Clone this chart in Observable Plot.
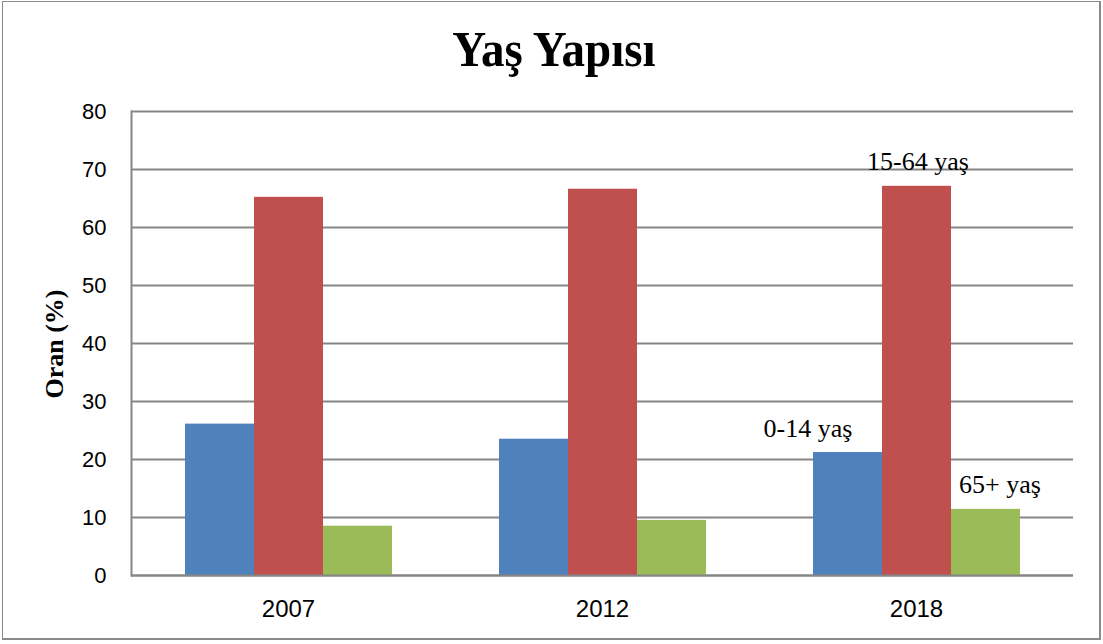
<!DOCTYPE html>
<html>
<head>
<meta charset="utf-8">
<script src="https://cdn.jsdelivr.net/npm/d3@7"></script>
<script src="https://cdn.jsdelivr.net/npm/@observablehq/plot@0.6"></script>
<style>
  html, body { margin: 0; padding: 0; background: #fff; }
  #wrap { position: relative; width: 1103px; height: 644px; overflow: hidden; }
  #border { position: absolute; left: 2px; top: 1px; width: 1099px; height: 639px; box-sizing: border-box; border: 2px solid #8a8a8a; border-top-width: 1px; border-left-width: 1px; pointer-events: none; }
  #title { position: absolute; left: 0; width: 1108px; top: 19px; text-align: center; font-family: "Liberation Serif", "Times New Roman", serif; font-weight: bold; font-size: 50px; line-height: 60px; transform: scaleX(0.94); transform-origin: 554px 0; color: #000; }
  #ylabel { position: absolute; left: 55px; top: 344px; transform: translate(-50%, -50%) rotate(-90deg); font-family: "Liberation Serif", "Times New Roman", serif; font-weight: bold; font-size: 26px; white-space: nowrap; color: #000; }
  svg { position: absolute; left: 0; top: 0; }
</style>
</head>
<body>
<div id="wrap">
  <div id="chart"></div>
  <div id="title">Yaş Yapısı</div>
  <div id="ylabel">Oran (%)</div>
  <div id="border"></div>
</div>
<script>
const years = ["2007", "2012", "2018"];
const groups = ["0-14 yaş", "15-64 yaş", "65+ yaş"];
const young = [26.1, 23.5, 21.2];
const working = [65.2, 66.6, 67.1];
const old = [8.5, 9.5, 11.4];
const yTicks = [0, 10, 20, 30, 40, 50, 60, 70, 80];
const colors = ["#4F81BD", "#C0504D", "#9BBB59"];
const labelYear = "2018";

const series = [young, working, old];
const data = [];
years.forEach((yr, i) => groups.forEach((g, j) => data.push({year: yr, group: g, value: series[j][i]})));

const labelDx = {"0-14 yaş": -40, "15-64 yaş": 1, "65+ yaş": 14};
const labelMarks = groups.map(g => Plot.text(data.filter(d => d.year === labelYear && d.group === g), {
  fx: "year", x: "group", y: "value", text: "group",
  dx: labelDx[g], dy: -16, lineAnchor: "bottom", textAnchor: "middle",
  fontFamily: "Liberation Serif, Times New Roman, serif", fontSize: 26, fill: "#000"
}));

const chart = Plot.plot({
  width: 1103,
  height: 644,
  marginLeft: 130,
  marginRight: 29,
  marginTop: 111,
  marginBottom: 69,
  style: {fontFamily: "Liberation Sans, Arial, sans-serif", fontSize: "22px", color: "#000", background: "transparent"},
  fx: {domain: years, padding: 0},
  x: {domain: groups, paddingInner: 0, paddingOuter: 0.75, axis: null},
  y: {domain: [0, 80]},
  color: {domain: groups, range: colors},
  marks: [
    Plot.gridY(yTicks, {stroke: "#868686", strokeOpacity: 1, strokeWidth: 2}),
    Plot.barY(data, {fx: "year", x: "group", y: "value", fill: "group", inset: 0}),
    Plot.ruleY([0], {stroke: "#868686", strokeWidth: 2}),
    Plot.frame({anchor: "left", facet: "super", stroke: "#868686", strokeWidth: 2}),
    Plot.axisY(yTicks, {tickSize: 0, tickPadding: 25, label: null, fontSize: 22, fill: "#000"}),
    Plot.axisFx({anchor: "bottom", tickSize: 0, tickPadding: 24, label: null, fontSize: 24, fill: "#000"}),
    ...labelMarks
  ]
});
document.getElementById("chart").appendChild(chart);
</script>
</body>
</html>
